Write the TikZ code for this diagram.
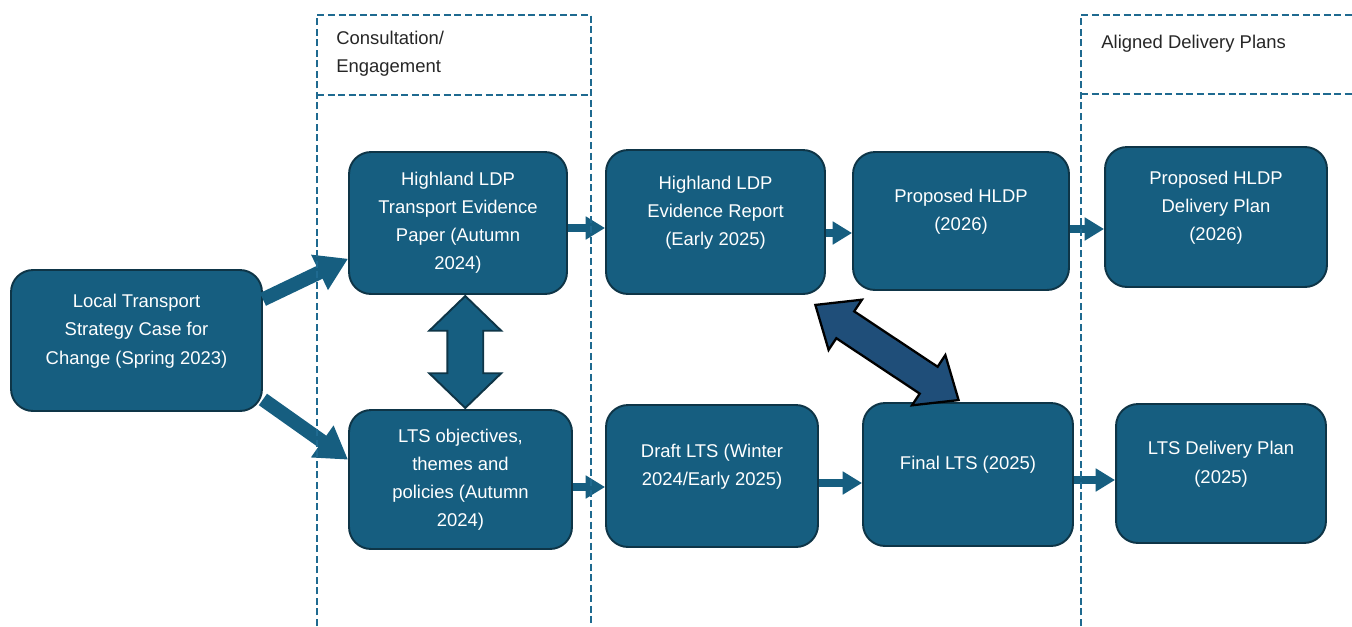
\documentclass[tikz,border=0pt]{standalone}
\usepackage{fontspec}
\setmainfont{Liberation Sans}
\usepackage{xcolor}
\usetikzlibrary{positioning,calc,shapes.arrows,arrows.meta}

\definecolor{stageblue}{HTML}{165E80}
\definecolor{stageedge}{HTML}{0E3547}
\definecolor{linkblue}{HTML}{1F4E79}
\definecolor{phaseblue}{HTML}{1F6A90}
\definecolor{headgray}{HTML}{262626}

\tikzset{
  stage/.style={draw=stageedge, line width=1.1pt, fill=stageblue, rounded corners=0.44cm,
    text=white, align=center, inner sep=2pt, font=\fontsize{10.5}{16}\selectfont},
  lift/.style={text depth=0.45cm},
  flow/.style={stageblue, line width=4.5pt, -{Triangle[length=11pt,width=12.5pt]}},
  bigflow/.style={stageblue, line width=8pt, -{Triangle[length=18pt,width=21pt]}},
  twoway/.style={double arrow, draw=stageedge, line width=1.1pt, fill=stageblue,
    inner xsep=0pt, double arrow tip angle=92},
  crossway/.style={double arrow, draw=black, line width=1.3pt, fill=linkblue,
    inner xsep=0pt, double arrow tip angle=80},
  phase/.style={phaseblue, line width=1.1pt, dash pattern=on 4pt off 2pt},
  phasehead/.style={text=headgray, align=left, anchor=north west, inner sep=0pt,
    font=\fontsize{10.5}{16}\selectfont},
}

\begin{document}
\begin{tikzpicture}[x=0.02cm, y=-0.02cm]
  \useasboundingbox (0,0) rectangle (1352,626);

  % stages
  \node[stage, lift, minimum width=5.02cm, minimum height=2.82cm] (case) at (136.5,340.5)
    {Local Transport\\Strategy Case for\\Change (Spring 2023)};
  \node[stage, minimum width=4.36cm, minimum height=2.84cm] (paper) at (458,223)
    {Highland LDP\\Transport Evidence\\Paper (Autumn\\2024)};
  \node[stage, minimum width=4.46cm, minimum height=2.78cm] (aims) at (460.5,479.5)
    {LTS objectives,\\themes and\\policies (Autumn\\2024)};
  \node[stage, lift, minimum width=4.38cm, minimum height=2.88cm] (report) at (715.5,222)
    {Highland LDP\\Evidence Report\\(Early 2025)};
  \node[stage, lift, minimum width=4.24cm, minimum height=2.84cm] (draft) at (712,476)
    {Draft LTS (Winter\\2024/Early 2025)};
  \node[stage, lift, minimum width=4.32cm, minimum height=2.76cm] (hldp) at (961,221)
    {Proposed HLDP\\(2026)};
  \node[stage, lift, minimum width=4.2cm, minimum height=2.86cm] (final) at (968,474.5)
    {Final LTS (2025)};
  \node[stage, lift, minimum width=4.44cm, minimum height=2.8cm] (hplan) at (1216,217)
    {Proposed HLDP\\Delivery Plan\\(2026)};
  \node[stage, lift, minimum width=4.2cm, minimum height=2.78cm] (lplan) at (1221,473.5)
    {LTS Delivery Plan\\(2025)};

  % flow between stages
  \draw[bigflow] (case.18) -- (paper.198);
  \draw[bigflow] (case.-25) -- (aims.170);
  \draw[flow] ([yshift=-0.1cm]paper.east) -- ([yshift=-0.1cm]paper.east -| report.west);
  \draw[flow] ([yshift=-0.22cm]report.east) -- ([yshift=-0.22cm]report.east -| hldp.west);
  \draw[flow] ([yshift=-0.16cm]hldp.east) -- ([yshift=-0.16cm]hldp.east -| hplan.west);
  \draw[flow] ([yshift=-0.15cm]aims.east) -- ([yshift=-0.15cm]aims.east -| draft.west);
  \draw[flow] ([yshift=-0.14cm]draft.east) -- ([yshift=-0.14cm]draft.east -| final.west);
  \draw[flow] ([yshift=-0.11cm]final.east) -- ([yshift=-0.11cm]final.east -| lplan.west);

  % two-way links
  \node[twoway, rotate=90, minimum height=2.24cm, inner ysep=0.34cm,
    double arrow head extend=0.36cm] (swap) at ($(paper.south)!0.5!(aims.north)+(6,0)$) {};
  \node[crossway, rotate=-33.6, minimum height=3.44cm, inner ysep=0.3cm,
    double arrow head extend=0.28cm] (tie) at ($(report.south east)!0.5!(final.north)+(-10,4)$) {};

  % phases
  \draw[phase] (317,626) -- (317,15) -- (591,15) -- (591,626);
  \draw[phase] (317,95) -- (591,95);
  \draw[phase] (1081,626) -- (1081,15) -- (1352,15);
  \draw[phase] (1081,94) -- (1352,94);
  \node[phasehead] (consult) at (336,31) {Consultation/\\Engagement};
  \node[phasehead] (aligned) at (1101,35) {Aligned Delivery Plans};
\end{tikzpicture}
\end{document}
